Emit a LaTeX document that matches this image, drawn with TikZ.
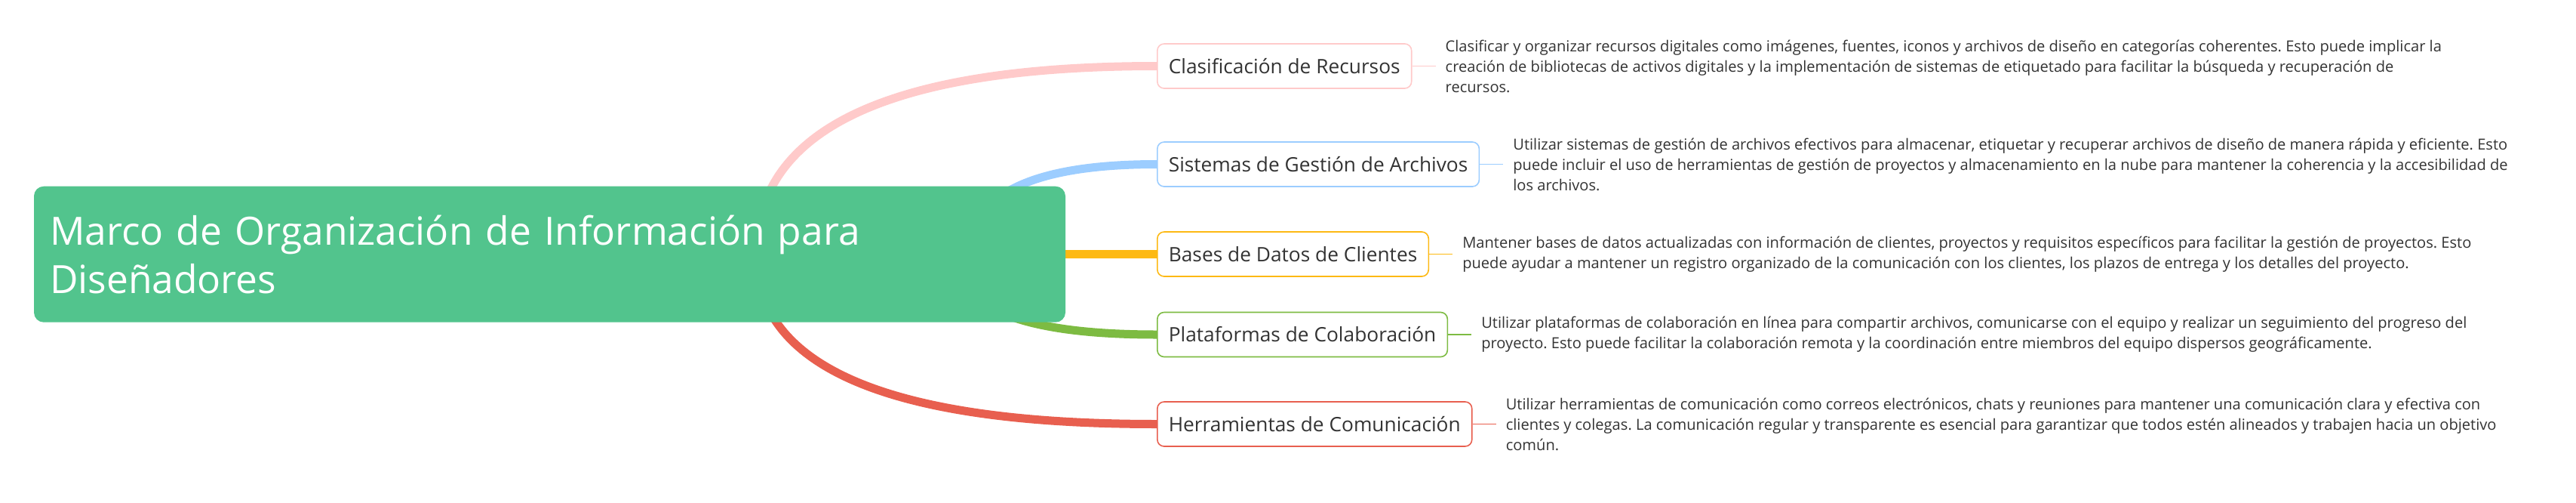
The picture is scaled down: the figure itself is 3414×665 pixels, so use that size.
\documentclass[tikz,border=0pt]{standalone}
\usepackage{fontspec}
\setmainfont{Open Sans}
\usepackage{xcolor}
\usetikzlibrary{positioning,backgrounds}
\definecolor{rootgreen}{HTML}{52C48D}
\definecolor{pinkc}{HTML}{FFCACA}
\definecolor{bluec}{HTML}{9CCDFF}
\definecolor{yellowc}{HTML}{FDB913}
\definecolor{greenc}{HTML}{7DBB42}
\definecolor{redc}{HTML}{E85F4F}
\definecolor{inkc}{HTML}{333333}
\frenchspacing

\begin{document}
\begin{tikzpicture}[
x=1pt,y=1pt,
rootbox/.style={fill=rootgreen,rounded corners=13pt,minimum width=1367pt,minimum height=180pt,text width=1325pt,inner xsep=21pt,align=left,text=white,font=\fontsize{51.5}{64}\selectfont},
branch/.style={draw=#1,line width=1.6pt,fill=white,rounded corners=9pt,minimum height=59pt,inner xsep=15pt,text=inkc,font=\fontsize{26.3}{30}\selectfont,anchor=west},
desc/.style={inner xsep=13pt,inner ysep=0pt,align=left,text=inkc,font=\fontsize{20.1}{27}\selectfont},
limb/.style={line width=11pt,draw=#1},
twig/.style={line width=1.8pt,draw=#1}
]
\useasboundingbox (0,0) rectangle (3414,-665);

\node[rootbox] (root) at (728.5,-336.7) {Marco de Organización de Información para\\Diseñadores};

\node[branch=pinkc] (clasif) at (1533,-87.5) {Clasificación de Recursos};
\node[branch=bluec] (gestion) at (1533,-217.5) {Sistemas de Gestión de Archivos};
\node[branch=yellowc] (clientes) at (1533,-336.5) {Bases de Datos de Clientes};
\node[branch=greenc] (colab) at (1533,-443) {Plataformas de Colaboración};
\node[branch=redc] (comunic) at (1533,-561.5) {Herramientas de Comunicación};

\node[desc,right=31pt of clasif] (clasifdesc) {Clasificar y organizar recursos digitales como imágenes, fuentes, iconos y archivos de diseño en categorías coherentes. Esto puede implicar la\\creación de bibliotecas de activos digitales y la implementación de sistemas de etiquetado para facilitar la búsqueda y recuperación de\\recursos.};
\node[desc,right=31pt of gestion] (gestiondesc) {Utilizar sistemas de gestión de archivos efectivos para almacenar, etiquetar y recuperar archivos de diseño de manera rápida y eficiente. Esto\\puede incluir el uso de herramientas de gestión de proyectos y almacenamiento en la nube para mantener la coherencia y la accesibilidad de\\los archivos.};
\node[desc,right=31pt of clientes] (clientesdesc) {Mantener bases de datos actualizadas con información de clientes, proyectos y requisitos específicos para facilitar la gestión de proyectos. Esto\\puede ayudar a mantener un registro organizado de la comunicación con los clientes, los plazos de entrega y los detalles del proyecto.};
\node[desc,right=31pt of colab] (colabdesc) {Utilizar plataformas de colaboración en línea para compartir archivos, comunicarse con el equipo y realizar un seguimiento del progreso del\\proyecto. Esto puede facilitar la colaboración remota y la coordinación entre miembros del equipo dispersos geográficamente.};
\node[desc,right=31pt of comunic] (comunicdesc) {Utilizar herramientas de comunicación como correos electrónicos, chats y reuniones para mantener una comunicación clara y efectiva con\\clientes y colegas. La comunicación regular y transparente es esencial para garantizar que todos estén alineados y trabajen hacia un objetivo\\común.};

\begin{pgfonlayer}{background}
\draw[limb=pinkc] ([xshift=273.5pt]root.center) .. controls +(0,166) and +(-354,0) .. (clasif.west);
\draw[limb=bluec] ([xshift=556.5pt]root.center) .. controls +(0,79) and +(-165,0) .. (gestion.west);
\draw[limb=yellowc] (root.east) -- (clientes.west);
\draw[limb=greenc] ([xshift=537.5pt]root.center) .. controls +(0,-71) and +(-178,0) .. (colab.west);
\draw[limb=redc] ([xshift=273.5pt]root.center) .. controls +(0,-150) and +(-354,0) .. (comunic.west);
\end{pgfonlayer}

\draw[twig=pinkc] (clasif) -- (clasifdesc);
\draw[twig=bluec] (gestion) -- (gestiondesc);
\draw[twig=yellowc] (clientes) -- (clientesdesc);
\draw[twig=greenc] (colab) -- (colabdesc);
\draw[twig=redc] (comunic) -- (comunicdesc);
\end{tikzpicture}
\end{document}
